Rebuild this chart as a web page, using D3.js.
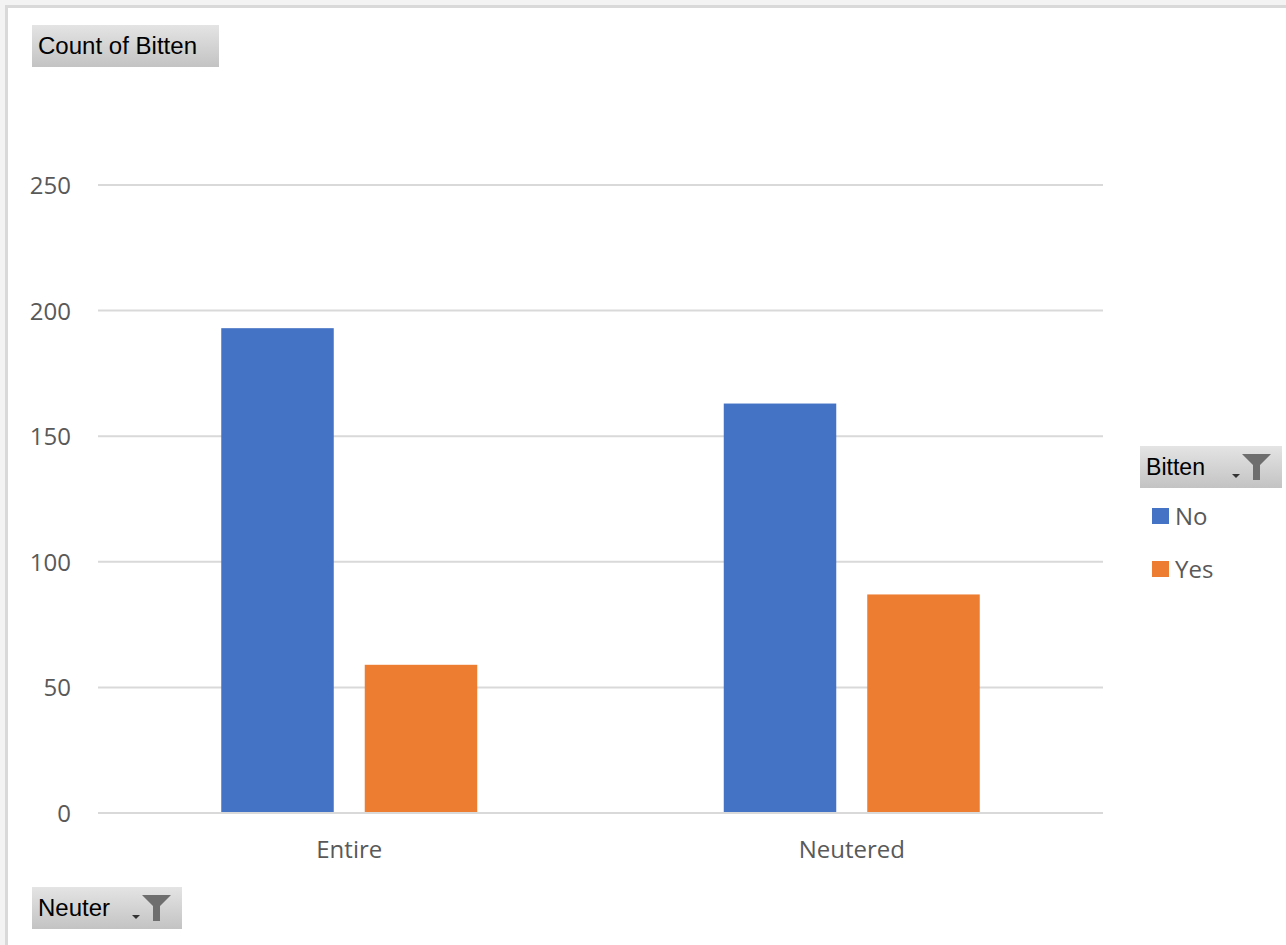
<!DOCTYPE html>
<html><head><meta charset="utf-8">
<script src="https://cdn.jsdelivr.net/npm/d3@7"></script>
<style>html,body{margin:0;padding:0;background:#fff;}svg{display:block;}</style>
</head><body>
<script>
const categories = ["Entire", "Neutered"];
const seriesNames = ["No", "Yes"];
const valuesNo = [193, 163];
const valuesYes = [59, 87];
const yTicks = [0, 50, 100, 150, 200, 250];
const colors = ["#4472C4", "#ED7D31"];
const titleButton = "Count of Bitten";
const axisButton = "Neuter";
const legendButton = "Bitten";

const W = 1286, H = 945;
const svg = d3.select("body").append("svg").attr("width", W).attr("height", H);
const defs = svg.append("defs");
const grad = defs.append("linearGradient").attr("id","btn").attr("x1",0).attr("y1",0).attr("x2",0).attr("y2",1);
grad.append("stop").attr("offset","0%").attr("stop-color","#e4e4e4");
grad.append("stop").attr("offset","100%").attr("stop-color","#c3c3c3");

// frame
svg.append("rect").attr("x",0).attr("y",0).attr("width",W).attr("height",H).attr("fill","#f3f3f3");
svg.append("rect").attr("x",5).attr("y",5).attr("width",W).attr("height",H).attr("fill","#d9d9d9");
svg.append("rect").attr("x",8).attr("y",8).attr("width",W).attr("height",H).attr("fill","#ffffff");

const plot = {left: 98, right: 1103, top: 185, bottom: 813};
const y = d3.scaleLinear().domain([0, 250]).range([plot.bottom, plot.top]);
const x0 = d3.scaleBand().domain(categories).range([plot.left, plot.right]).paddingInner(0).paddingOuter(0);
const x1 = d3.scaleBand().domain(seriesNames).range([0, x0.bandwidth()]).paddingInner(0.216).paddingOuter(0.859);

const font = "'Open Sans', 'Noto Sans', sans-serif";

// gridlines
svg.append("g").selectAll("line").data(yTicks).join("line")
  .attr("x1", plot.left).attr("x2", plot.right)
  .attr("y1", d => y(d)).attr("y2", d => y(d))
  .attr("stroke", "#d9d9d9").attr("stroke-width", 2);

// y tick labels
const yAxis = d3.axisLeft(y).tickValues(yTicks).tickSize(0).tickPadding(0);
const ga = svg.append("g").attr("transform", `translate(71,0)`).call(yAxis);
ga.select(".domain").remove();
ga.selectAll("text").attr("font-family", font).attr("font-size", 24).attr("fill", "#595959").attr("dy","0.35em");

// x labels
const xAxis = d3.axisBottom(x0).tickSize(0).tickPadding(0);
const gx = svg.append("g").attr("transform", `translate(0,850)`).call(xAxis);
gx.select(".domain").remove();
gx.selectAll("text").attr("font-family", font).attr("font-size", 24).attr("fill", "#595959").attr("dy","0.35em");

// bars
const data = categories.map((c, i) => ({cat: c, vals: [valuesNo[i], valuesYes[i]]}));
const groups = svg.append("g").selectAll("g").data(data).join("g")
  .attr("transform", d => `translate(${x0(d.cat)},0)`);
groups.selectAll("rect").data(d => d.vals.map((v, j) => ({s: seriesNames[j], v, j}))).join("rect")
  .attr("x", d => x1(d.s)).attr("width", x1.bandwidth())
  .attr("y", d => y(d.v)).attr("height", d => y(0) - y(d.v))
  .attr("fill", d => colors[d.j]);

// x axis line
svg.append("line").attr("x1", plot.left).attr("x2", plot.right)
  .attr("y1", y(0)).attr("y2", y(0)).attr("stroke", "#d9d9d9").attr("stroke-width", 2);

// buttons
const bfont = "'Liberation Sans Narrow', 'Liberation Sans', sans-serif";
function button(x, yy, w, h, label, tw, funnel) {
  const g = svg.append("g");
  g.append("rect").attr("x", x).attr("y", yy).attr("width", w).attr("height", h).attr("fill", "url(#btn)");
  g.append("text").attr("x", x + 6).attr("y", yy + h/2).attr("dy", "0.36em")
    .attr("font-family", bfont).attr("font-size", 23).attr("fill", "#000")
    .attr("textLength", tw).attr("lengthAdjust", "spacingAndGlyphs").text(label);
  if (funnel) {
    const fx = x + w - 40, fy = yy + 8;
    g.append("path").attr("d", `M${fx},${fy} L${fx+29},${fy} L${fx+18},${fy+11} L${fx+18},${fy+26} L${fx+11},${fy+26} L${fx+11},${fy+11} Z`).attr("fill", "#6e6e6e");
    g.append("path").attr("d", `M${fx-10},${fy+20} L${fx-2},${fy+20} L${fx-6},${fy+24} Z`).attr("fill", "#333");
  }
}
button(32, 25, 187, 42, titleButton, 159, false);
button(32, 887, 150, 42, axisButton, 72, true);
button(1140, 446, 142, 42, legendButton, 59, true);

// legend
const lg = svg.append("g");
seriesNames.forEach((s, i) => {
  const ly = 508 + i * 53;
  lg.append("rect").attr("x", 1152).attr("y", ly).attr("width", 17).attr("height", 16).attr("fill", colors[i]);
  lg.append("text").attr("x", 1175).attr("y", ly + 8).attr("dy", "0.36em")
    .attr("font-family", font).attr("font-size", 24).attr("fill", "#595959").text(s);
});
</script>
</body></html>
